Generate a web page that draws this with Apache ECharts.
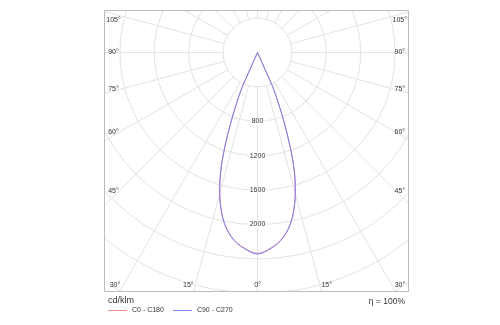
<!DOCTYPE html>
<html>
<head>
<meta charset="utf-8">
<script src="https://cdn.jsdelivr.net/npm/echarts@6/dist/echarts.min.js"></script>
<style>
  html, body { margin: 0; padding: 0; background: #fff; }
  #chart { width: 500px; height: 325px; }
</style>
</head>
<body>
<div id="chart"></div>
<script>
// Luminous intensity distribution (cd/klm) against gamma angle, per C-plane pair
const gammaAngles = [0, 1, 2, 3, 4, 5, 6, 7, 8, 9, 10, 11, 12, 13, 14, 15, 16, 17, 18, 19, 20, 21, 22, 23, 24, 25,
                     30, 45, 60, 75, 90, 105, 120, 135, 150, 165, 180];
const intensityC0C180 = [2336, 2331, 2316, 2296, 2276, 2254, 2230, 2200, 2165, 2123, 2075, 2018, 1954, 1878, 1792, 1696,
                         1590, 1474, 1337, 1177, 1010, 850, 698, 563, 428, 0,
                         0, 0, 0, 0, 0, 0, 0, 0, 0, 0, 0];
const intensityC90C270 = [2343, 2338, 2322, 2302, 2282, 2260, 2236, 2206, 2170, 2128, 2080, 2022, 1958, 1882, 1796, 1700,
                          1594, 1478, 1340, 1180, 1012, 852, 700, 565, 430, 0,
                          0, 0, 0, 0, 0, 0, 0, 0, 0, 0, 0];
const planeNames = ['C0 - C180', 'C90 - C270'];
const planeColors = ['#f08c8c', '#7f7ff0'];

// Ring scale
const radiusMax = 3600;
const radiusStep = 400;
const innerRing = 400;
const labelledRings = [800, 1200, 1600, 2000];

// Gamma angle labels around the frame
const angleLabelsSide = [105, 90, 75, 60, 45];
const angleLabelsBottom = [30, 15, 0];
const unitText = 'cd/klm';
const efficiencyText = 'η = 100%';

// Layout
const cx = 257.5, cy = 52.5;
const ringPx = 34.4;
const frame = { x0: 104.5, y0: 10.5, x1: 408.5, y1: 291.5 };
const sideLabelY = { 105: 20, 90: 51.7, 75: 89.3, 60: 132.3, 45: 190.7 };
const bottomLabelX = { 30: 115, 15: 188.3, 0: 257.5 };
const leftLabelX = 113.5, rightLabelX = 399.8, bottomLabelY = 285;

const fontTick = '"Liberation Sans", Arial, sans-serif';
const tickColor = '#333';
const gridColor = '#e3e3e3';

// One closed curve per plane pair: right half (360 - gamma) then left half (gamma)
function planeCurve(values) {
  const pts = [];
  for (let i = gammaAngles.length - 1; i >= 0; i--) pts.push([values[i], 360 - gammaAngles[i]]);
  for (let i = 0; i < gammaAngles.length; i++) pts.push([values[i], gammaAngles[i]]);
  return pts;
}

const rOuter = ringPx * (radiusMax / radiusStep);
const rInner = ringPx * (innerRing / radiusStep);

const textEls = [];
angleLabelsSide.forEach(a => {
  textEls.push({ x: leftLabelX, y: sideLabelY[a], text: a + '°' });
  textEls.push({ x: rightLabelX, y: sideLabelY[a], text: a + '°' });
});
angleLabelsBottom.forEach(a => {
  textEls.push({ x: bottomLabelX[a], y: bottomLabelY, text: a + '°' });
  if (a !== 0) textEls.push({ x: 2 * cx - bottomLabelX[a], y: bottomLabelY, text: a + '°' });
});

const graphicEls = [
  // keep the radial spokes out of the innermost ring
  { type: 'circle', z: 1, silent: true, shape: { cx: cx, cy: cy, r: rInner - 0.6 }, style: { fill: '#fff' } },
  // white masks outside the frame
  { type: 'rect', z: 50, silent: true, shape: { x: 0, y: 0, width: 500, height: frame.y0 }, style: { fill: '#fff' } },
  { type: 'rect', z: 50, silent: true, shape: { x: 0, y: 0, width: frame.x0, height: 325 }, style: { fill: '#fff' } },
  { type: 'rect', z: 50, silent: true, shape: { x: frame.x1, y: 0, width: 500 - frame.x1, height: 325 }, style: { fill: '#fff' } },
  { type: 'rect', z: 50, silent: true, shape: { x: 0, y: frame.y1, width: 500, height: 325 - frame.y1 }, style: { fill: '#fff' } },
  // frame
  { type: 'rect', z: 51, silent: true,
    shape: { x: frame.x0, y: frame.y0, width: frame.x1 - frame.x0, height: frame.y1 - frame.y0 },
    style: { fill: null, stroke: '#bcbcbc', lineWidth: 1 } },
  { type: 'text', z: 52, x: 108, y: 301, silent: true,
    style: { text: unitText, font: '9px ' + fontTick, fill: tickColor, textAlign: 'left', textVerticalAlign: 'middle' } },
  { type: 'text', z: 52, x: 405, y: 302, silent: true,
    style: { text: efficiencyText, font: '8.5px ' + fontTick, fill: tickColor, textAlign: 'right', textVerticalAlign: 'middle' } }
];
textEls.forEach(t => graphicEls.push({
  type: 'text', z: 52, x: t.x, y: t.y, silent: true,
  style: { text: t.text, font: '7px ' + fontTick, fill: tickColor, textAlign: 'center', textVerticalAlign: 'middle' }
}));

const chart = echarts.init(document.getElementById('chart'), null, { renderer: 'canvas' });
chart.setOption({
  animation: false,
  backgroundColor: '#fff',
  polar: { center: [cx, cy], radius: [0, rOuter] },
  angleAxis: {
    type: 'value', min: 0, max: 360, interval: 15,
    startAngle: 270, clockwise: true,
    axisLine: { show: false }, axisTick: { show: false }, axisLabel: { show: false },
    splitLine: { show: true, lineStyle: { color: gridColor, width: 1 } }
  },
  radiusAxis: {
    type: 'value', min: 0, max: radiusMax, interval: radiusStep,
    axisLine: { show: false }, axisTick: { show: false },
    splitLine: { show: true, lineStyle: { color: gridColor, width: 1 } },
    axisLabel: {
      show: true, margin: 0, align: 'center', verticalAlign: 'middle',
      fontSize: 7, fontFamily: fontTick, color: tickColor,
      backgroundColor: '#fff', padding: [0, 1],
      hideOverlap: false,
      formatter: v => labelledRings.indexOf(v) >= 0 ? String(v) : ''
    },
    z: 3
  },
  legend: {
    z: 60, left: 108, top: 307, padding: 0, orient: 'horizontal',
    icon: 'rect', itemWidth: 19, itemHeight: 1, itemGap: 9,
    textStyle: { fontSize: 7, fontFamily: fontTick, color: tickColor },
    data: planeNames.map((n, i) => ({ name: n, itemStyle: { color: planeColors[i] } }))
  },
  graphic: { elements: graphicEls },
  series: [
    { name: planeNames[0], type: 'line', coordinateSystem: 'polar', clip: false, showSymbol: false, symbol: 'none',
      lineStyle: { color: planeColors[0], width: 1 }, itemStyle: { color: planeColors[0] },
      data: planeCurve(intensityC0C180), z: 5 },
    { name: planeNames[1], type: 'line', coordinateSystem: 'polar', clip: false, showSymbol: false, symbol: 'none',
      lineStyle: { color: planeColors[1], width: 1 }, itemStyle: { color: planeColors[1] },
      data: planeCurve(intensityC90C270), z: 6 }
  ]
});
</script>
</body>
</html>
